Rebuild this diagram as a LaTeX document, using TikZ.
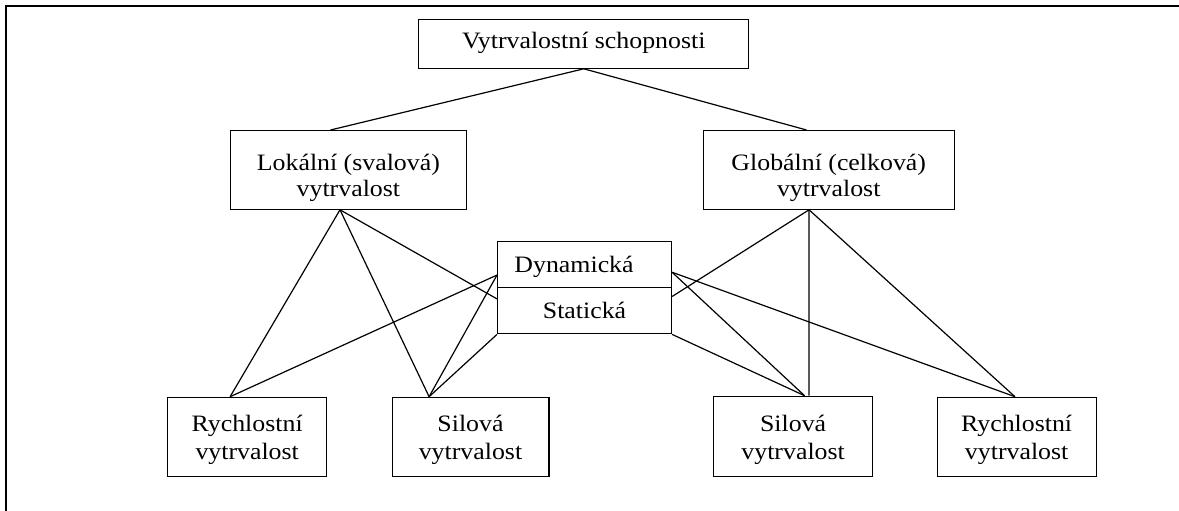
\documentclass[tikz,border=0pt]{standalone}
\usepackage{fontspec}
\setmainfont{Liberation Serif}[FakeStretch=1.1]
% #1 height above first baseline, #2 depth below it, #3 baselineskip, #4 rows
\newcommand\bxt[4]{\raisebox{0pt}[#1][#2]{\makebox[0pt]{\vtop{\baselineskip=#3\lineskiplimit=-100pt\halign{\hfil##\hfil\cr#4\crcr}}}}}
\tikzset{
  box/.style={draw, line width=1.1pt, inner sep=0pt, anchor=north west,
    font=\fontsize{23.5}{25}\selectfont},
  conn/.style={line width=1.2pt},
  frame/.style={line width=2.2pt}
}
\begin{document}
\begin{tikzpicture}[x=1pt,y=-1pt]
\useasboundingbox (0,0) rectangle (1179,511);
\clip (0,0) rectangle (1179,511);
\fill[white] (0,0) rectangle (1179,511);
\draw[frame] (6,520) -- (6,6) -- (1190,6);

\node[box, minimum width=329.9pt, minimum height=48.7pt] (top) at (418.3,19)
  {\bxt{29.3pt}{19.4pt}{25pt}{Vytrvalostní schopnosti}};
\node[box, minimum width=236.5pt, minimum height=78.7pt] (lok) at (229.6,130)
  {\bxt{40pt}{38.7pt}{25.5pt}{Lokální (svalová)\cr vytrvalost}};
\node[box, minimum width=251.4pt, minimum height=78.7pt] (glob) at (702.5,130)
  {\bxt{40pt}{38.7pt}{25.5pt}{Globální (celková)\cr vytrvalost}};
\node[box, minimum width=174pt, minimum height=46pt] (dyn) at (497,241)
  {\bxt{30.5pt}{15.5pt}{25pt}{\kern-21pt Dynamická}};
\node[box, minimum width=174pt, minimum height=46.3pt] (stat) at (497,287)
  {\bxt{30.5pt}{15.8pt}{25pt}{Statická}};
\node[box, minimum width=158.9pt, minimum height=79pt] (rl) at (167.2,396.7)
  {\bxt{33.8pt}{45.2pt}{28pt}{Rychlostní\cr vytrvalost}};
\node[box, minimum width=156.9pt, minimum height=79pt] (sl) at (391.5,396.7)
  {\bxt{33.8pt}{45.2pt}{28pt}{Silová\cr vytrvalost}};
\node[box, minimum width=158.8pt, minimum height=80pt] (sr) at (713.2,395.7)
  {\bxt{34.8pt}{45.2pt}{28pt}{Silová\cr vytrvalost}};
\node[box, minimum width=158.8pt, minimum height=79pt] (rr) at (936.7,396.7)
  {\bxt{33.8pt}{45.2pt}{28pt}{Rychlostní\cr vytrvalost}};

% top level
\draw[conn] (top.south) -- ([xshift=-17.9pt]lok.north);
\draw[conn] (top.south) -- ([xshift=-22.2pt]glob.north);
% left side
\draw[conn] ([xshift=-8.4pt]lok.south) -- ([xshift=-17.1pt]rl.north);
\draw[conn] ([xshift=-8.4pt]lok.south) -- ([xshift=-41.4pt]sl.north);
\draw[conn] ([xshift=-8.4pt]lok.south) -- ([yshift=11.8pt]stat.west);
\draw[conn] ([xshift=-17.1pt]rl.north) -- ([yshift=-10.5pt]dyn.west);
\draw[conn] ([xshift=-41.4pt]sl.north) -- ([yshift=-10.5pt]dyn.west);
\draw[conn] ([xshift=-41.4pt]sl.north) -- (stat.south west);
% right side
\draw[conn] ([xshift=-19.7pt]glob.south) -- ([yshift=14.2pt]stat.east);
\draw[conn] ([xshift=-19.7pt]glob.south) -- ([xshift=15.9pt]sr.north);
\draw[conn] ([xshift=-19.7pt]glob.south) -- ([xshift=-1.7pt]rr.north);
\draw[conn] ([yshift=-7.7pt]dyn.east) -- ([xshift=11.4pt]sr.north);
\draw[conn] ([yshift=-7.7pt]dyn.east) -- ([xshift=-1.7pt]rr.north);
\draw[conn] (stat.south east) -- ([xshift=11.4pt]sr.north);
\end{tikzpicture}
\end{document}
